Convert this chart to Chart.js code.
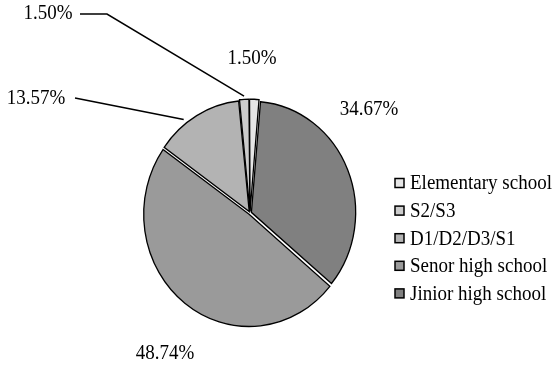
<!DOCTYPE html>
<html>
<head>
<meta charset="utf-8">
<script src="https://cdn.jsdelivr.net/npm/chart.js@4/dist/chart.umd.min.js"></script>
<style>
  html, body { margin: 0; padding: 0; background: #ffffff; }
  #wrap { width: 556px; height: 366px; position: relative; }
</style>
</head>
<body>
<div id="wrap"><canvas id="c" width="556" height="366"></canvas></div>
<script>
// Education level of respondents (share of total, %)
const categories = ['Jinior high school', 'Senor high school', 'D1/D2/D3/S1', 'S2/S3', 'Elementary school'];
const shares = [34.67, 48.74, 13.57, 1.50, 1.50];
const fills = ['#808080', '#9a9a9a', '#b3b3b3', '#cccccc', '#e6e6e6'];

const FONT = '19px "Liberation Serif", "Times New Roman", serif';
const STRETCH = 1.065;   // pie and text are drawn slightly taller than wide

// label text centres and optional leader lines (layout only);
// `along` is where on the slice's arc the leader line lands (0 = start, 1 = end)
const labelLayout = [
  { x: 369, y: 110 },
  { x: 165, y: 354 },
  { x: 36,  y: 99,  leader: [[75, 98]], along: 0.36 },
  { x: 48,  y: 14,  leader: [[80, 14], [107, 14]], along: 0.5 },
  { x: 252, y: 59 }
];

function tallText(ctx, text, x, y) {
  ctx.save();
  ctx.translate(x, y);
  ctx.scale(1, STRETCH);
  ctx.fillText(text, 0, 0);
  ctx.restore();
}

const stretchPie = {
  id: 'stretchPie',
  beforeDatasetsDraw(chart) {
    const a = chart.getDatasetMeta(0).data[0];
    const ctx = chart.ctx;
    ctx.save();
    ctx.translate(0, a.y);
    ctx.scale(1, STRETCH);
    ctx.translate(0, -a.y);
  },
  afterDatasetsDraw(chart) {
    chart.ctx.restore();
  }
};

const pieLabels = {
  id: 'pieLabels',
  afterDraw(chart) {
    const ctx = chart.ctx;
    const arcs = chart.getDatasetMeta(0).data;
    const off = chart.data.datasets[0].offset / 2;
    ctx.save();
    ctx.font = FONT;
    ctx.fillStyle = '#000';
    ctx.textAlign = 'center';
    ctx.textBaseline = 'middle';
    arcs.forEach((arc, i) => {
      const lay = labelLayout[i];
      tallText(ctx, shares[i].toFixed(2) + '%', lay.x, lay.y);
      if (lay.leader) {
        const ang = arc.startAngle + (arc.endAngle - arc.startAngle) * lay.along;
        const r = arc.outerRadius + off + 3;
        const ex = arc.x + Math.cos(ang) * r;
        const ey = arc.y + Math.sin(ang) * r * STRETCH;
        ctx.beginPath();
        ctx.lineWidth = 1.5;
        ctx.strokeStyle = '#000';
        ctx.moveTo(lay.leader[0][0], lay.leader[0][1]);
        for (let k = 1; k < lay.leader.length; k++) ctx.lineTo(lay.leader[k][0], lay.leader[k][1]);
        ctx.lineTo(ex, ey);
        ctx.stroke();
      }
    });
    ctx.restore();
  }
};

const sideLegend = {
  id: 'sideLegend',
  afterDraw(chart) {
    const ctx = chart.ctx;
    const ds = chart.data.datasets[0];
    const labels = chart.data.labels;
    const x0 = 395, y0 = 183, step = 27.6, box = 9;
    ctx.save();
    ctx.font = FONT;
    ctx.textAlign = 'left';
    ctx.textBaseline = 'middle';
    for (let j = 0; j < labels.length; j++) {
      const i = labels.length - 1 - j;
      const y = y0 + j * step;
      ctx.fillStyle = ds.backgroundColor[i];
      ctx.fillRect(x0, y - box / 2, box, box);
      ctx.lineWidth = 1.5;
      ctx.strokeStyle = '#000';
      ctx.strokeRect(x0, y - box / 2, box, box);
      ctx.fillStyle = '#000';
      tallText(ctx, labels[i], x0 + 15, y + 1);
    }
    ctx.restore();
  }
};

new Chart(document.getElementById('c'), {
  type: 'pie',
  data: {
    labels: categories,
    datasets: [{
      data: shares,
      backgroundColor: fills,
      borderColor: '#000000',
      borderWidth: 1.3,
      offset: 6,
      borderJoinStyle: 'miter'
    }]
  },
  options: {
    responsive: false,
    animation: false,
    rotation: 5,
    radius: 104,
    layout: { padding: { left: 0, right: 56, top: 60, bottom: 0 } },
    plugins: {
      legend: { display: false },
      tooltip: { enabled: false }
    }
  },
  plugins: [stretchPie, pieLabels, sideLegend]
});
</script>
</body>
</html>
